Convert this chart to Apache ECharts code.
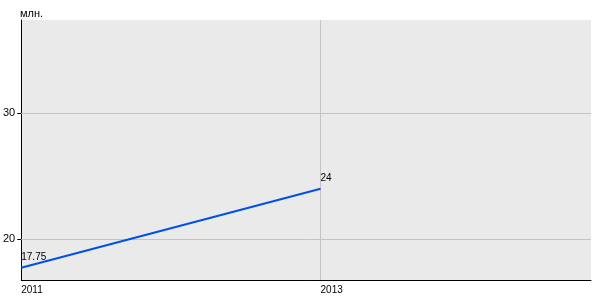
<!DOCTYPE html>
<html>
<head>
<meta charset="utf-8">
<script src="https://cdn.jsdelivr.net/npm/echarts@6/dist/echarts.min.js"></script>
<style>html,body{margin:0;padding:0;background:#fff}#c{width:600px;height:300px}</style>
</head>
<body>
<div id="c"></div>
<script>
var years = [2011, 2013];
var values = [17.75, 24];
var yTicks = [20, 30];
var xTicks = [2011, 2013];
var unitLabel = 'млн.';

var chart = echarts.init(document.getElementById('c'));
var font = 'Liberation Sans, Arial, sans-serif';
var gridMarks = yTicks.map(function (v) { return { yAxis: v }; })
  .concat(xTicks.slice(1).map(function (v) { return { xAxis: v }; }));

chart.setOption({
  animation: false,
  title: {
    text: unitLabel, left: 15, top: 3,
    textStyle: { fontSize: 11, fontWeight: 'normal', color: '#000', fontFamily: font }
  },
  grid: {
    left: 20, right: 9, top: 20, bottom: 20,
    show: true, backgroundColor: '#eaeaea', borderWidth: 0
  },
  xAxis: {
    type: 'value', min: 2011, max: 2014.807,
    axisLine: { show: true, lineStyle: { color: '#000', width: 1 } },
    axisTick: { show: false },
    splitLine: { show: false },
    axisLabel: {
      customValues: xTicks, align: 'left', margin: 5,
      fontSize: 10, color: '#000', fontFamily: font,
      formatter: function (v) { return String(v); }
    }
  },
  yAxis: {
    type: 'value', min: 16.78, max: 37.36,
    axisLine: { show: true, lineStyle: { color: '#000', width: 1 } },
    axisTick: { show: true, inside: false, customValues: yTicks, length: 4, lineStyle: { color: '#000', width: 1 } },
    splitLine: { show: false },
    axisLabel: {
      customValues: yTicks, margin: 6, fontSize: 11, color: '#000', fontFamily: font,
      verticalAlign: 'middle', padding: [0, 0, 7, 0]
    }
  },
  series: [{
    type: 'line',
    data: years.map(function (y, i) { return [y, values[i]]; }),
    showSymbol: true,
    symbol: 'circle',
    symbolSize: 0.1,
    itemStyle: { color: '#0050e6' },
    lineStyle: { color: '#0050e6', width: 2 },
    label: {
      show: true, position: 'top', align: 'left', distance: 5,
      fontSize: 10, color: '#000', fontFamily: font,
      formatter: function (p) { return String(p.value[1]); }
    },
    markLine: {
      silent: true, symbol: 'none', label: { show: false },
      lineStyle: { color: '#c4c4c4', width: 1, type: 'solid' },
      data: gridMarks, z: 1
    },
    z: 3
  }]
});
</script>
</body>
</html>
